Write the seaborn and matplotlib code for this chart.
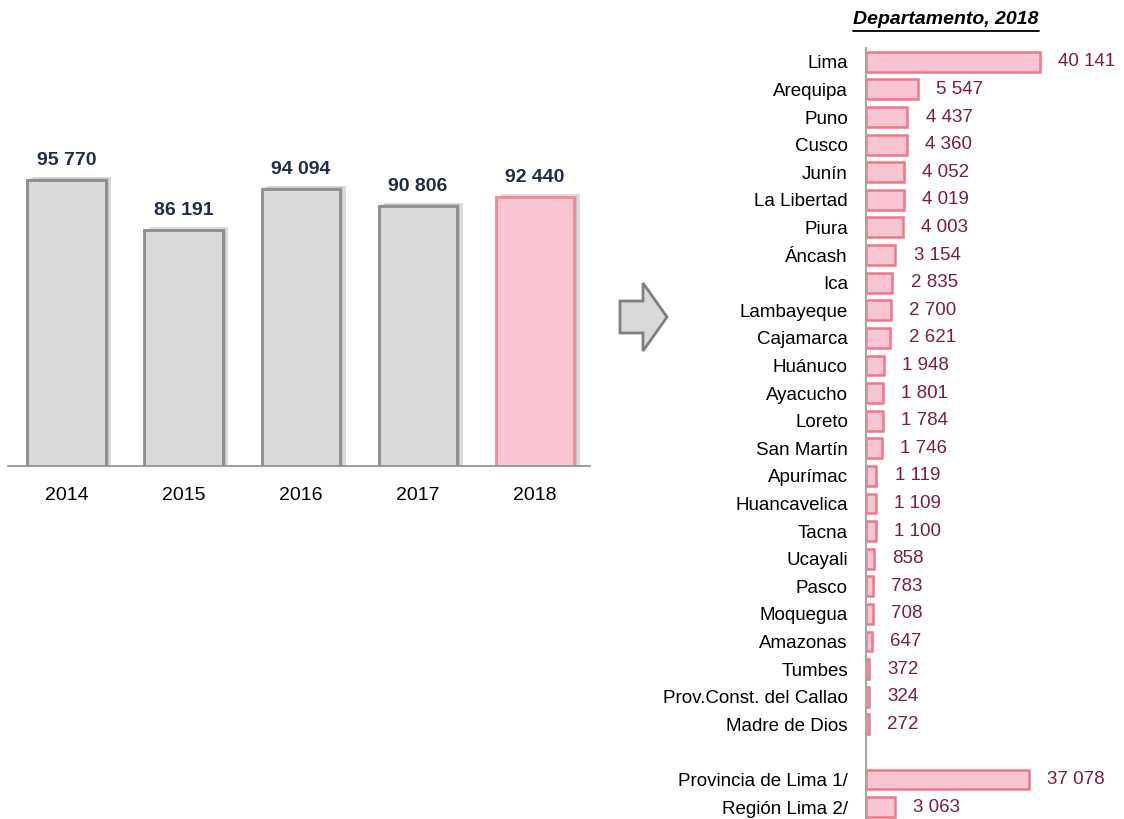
import matplotlib
matplotlib.use("Agg")
import matplotlib.pyplot as plt
import matplotlib.patheffects as pe
from matplotlib.patches import Polygon
import numpy as np
import pandas as pd
import seaborn as sns

# Total por año
years = ["2014", "2015", "2016", "2017", "2018"]
totals = [95770, 86191, 94094, 90806, 92440]

# Departamento, 2018
departments = [
    "Lima", "Arequipa", "Puno", "Cusco", "Junín", "La Libertad", "Piura",
    "Áncash", "Ica", "Lambayeque", "Cajamarca", "Huánuco", "Ayacucho",
    "Loreto", "San Martín", "Apurímac", "Huancavelica", "Tacna", "Ucayali",
    "Pasco", "Moquegua", "Amazonas", "Tumbes", "Prov.Const. del Callao",
    "Madre de Dios",
]
dept_values = [
    40141, 5547, 4437, 4360, 4052, 4019, 4003, 3154, 2835, 2700, 2621,
    1948, 1801, 1784, 1746, 1119, 1109, 1100, 858, 783, 708, 647, 372,
    324, 272,
]
lima_parts = ["Provincia de Lima 1/", "Región Lima 2/"]
lima_values = [37078, 3063]


def fmt(v):
    return f"{v:,}".replace(",", " ")


sns.set_theme(style="white")
plt.rcParams["font.family"] = ["Liberation Sans Narrow", "Liberation Sans", "DejaVu Sans"]

W, H = 1124, 819
fig = plt.figure(figsize=(W / 100, H / 100), dpi=100)


def box(x0, y0, x1, y1):
    # pixel box (top-left origin) -> figure fraction rect
    return [x0 / W, 1 - y1 / H, (x1 - x0) / W, (y1 - y0) / H]


# ---- left: totals by year ----
ax1 = fig.add_axes(box(8, 140, 590, 466))
grey, pink = "#D9D9D9", "#F9C5D3"
sns.barplot(x=years, y=totals, hue=years, legend=False,
            palette=[grey] * 4 + [pink], width=0.67, ax=ax1,
            edgecolor="#8C8C8C", linewidth=2, saturation=1)
for i, p in enumerate(ax1.patches):
    if i == 4:
        p.set_edgecolor("#F08A98")
    p.set_path_effects([pe.SimplePatchShadow(offset=(4, 2), shadow_rgbFace="#9A9A9A", alpha=0.35),
                        pe.SimplePatchShadow(offset=(2, 1), shadow_rgbFace="#9A9A9A", alpha=0.35),
                        pe.Normal()])
for c in ax1.containers:
    bars = [b for b in c if b is not None]
    c_labels = [fmt(int(round(b.get_height()))) for b in bars]
    ax1.bar_label(c, labels=c_labels, padding=8, fontsize=14,
                  fontweight="bold", color="#1F2D4A")
ax1.set_ylim(41000, 103400)
ax1.set_xlim(-0.5, 4.47)
ax1.set_yticks([])
ax1.set_xlabel("")
ax1.set_ylabel("")
ax1.tick_params(axis="x", labelsize=14, colors="black", pad=15, length=0)
for s in ["top", "right", "left"]:
    ax1.spines[s].set_visible(False)
ax1.spines["bottom"].set_color("#8C8C8C")
ax1.spines["bottom"].set_linewidth(1.2)

# ---- arrow ----
arrow_px = [(620, 301), (643, 301), (643, 283), (667, 317), (643, 351), (643, 333), (620, 333)]
fig.patches.append(Polygon([(x / W, 1 - y / H) for x, y in arrow_px], closed=True,
                           transform=fig.transFigure, facecolor="#D9D9D9",
                           edgecolor="#7F7F7F", linewidth=2))

# ---- right: departments ----
spacer = " "
order = departments + [spacer] + lima_parts
df = pd.DataFrame({"name": departments + lima_parts,
                   "value": dept_values + lima_values})

ax2 = fig.add_axes(box(866, 48, 1124, 819))
sns.barplot(data=df, y="name", x="value", order=order, orient="h",
            color=pink, width=0.72, ax=ax2, edgecolor="#F07886", linewidth=1.8,
            saturation=1)

# compress the long bars (Lima, Provincia de Lima) like the original
T, k = 6000.0, 107.0 / 290.0


def fwd(v):
    v = np.asarray(v, dtype=float)
    return np.where(v <= T, v, T + (v - T) * k)


def inv(u):
    u = np.asarray(u, dtype=float)
    return np.where(u <= T, u, T + (u - T) / k)


ax2.set_xscale("function", functions=(fwd, inv))
ax2.set_xlim(0, float(inv(258 * 107.0)))
ax2.set_ylim(len(order) - 0.57, -0.5)

for c in ax2.containers:
    vals = [fmt(int(round(r.get_width()))) for r in c]
    ax2.bar_label(c, labels=vals, padding=13, fontsize=13.5, color="#7B1E3C")

ax2.set_xticks([])
ax2.set_xlabel("")
ax2.set_ylabel("")
ax2.set_yticks(range(len(order)))
ax2.set_yticklabels(order)
ax2.tick_params(axis="y", labelsize=13.5, colors="black", pad=13, length=0)
for s in ["top", "right", "bottom"]:
    ax2.spines[s].set_visible(False)
ax2.spines["left"].set_color("#A6A6A6")
ax2.spines["left"].set_linewidth(1.5)

title = fig.text(946 / W, 1 - 20 / H, "Departamento, 2018", ha="center", va="center",
                 fontsize=14, fontweight="bold", fontstyle="italic", color="black")
fig.canvas.draw()
bb = title.get_window_extent().transformed(fig.transFigure.inverted())
uy = bb.y0 - 2 / H
fig.add_artist(plt.Line2D([bb.x0, bb.x1], [uy, uy], color="black", linewidth=1.3))

fig.savefig("out.png", dpi=100)
